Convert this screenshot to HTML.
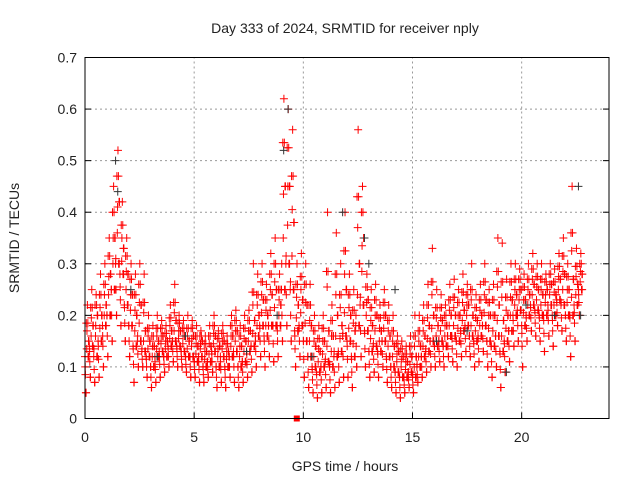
<!DOCTYPE html>
<html><head><meta charset="utf-8"><style>
html,body{margin:0;padding:0;background:#fff;}
svg{display:block;font-family:"Liberation Sans",sans-serif;}
</style></head><body>
<svg id="chart" width="640" height="480" viewBox="0 0 640 480">
<rect width="640" height="480" fill="#fff"/>
<text x="345" y="33" text-anchor="middle" font-size="14" fill="#222">Day 333 of 2024, SRMTID for receiver nply</text>
<text x="345" y="471" text-anchor="middle" font-size="14" fill="#222">GPS time / hours</text>
<text transform="translate(19,238) rotate(-90)" text-anchor="middle" font-size="14" fill="#222">SRMTID / TECUs</text>
<g id="grid"></g>
<g id="ticks"></g>
<g id="marks"></g>
<rect x="85" y="57.5" width="524" height="361" fill="none" stroke="#000" stroke-width="1"/>
</svg>
<script>
const xTicks=[0,5,10,15,20];
const yTicks=[0,0.1,0.2,0.3,0.4,0.5,0.6,0.7];
const yTickLabels=["0","0.1","0.2","0.3","0.4","0.5","0.6","0.7"];
const binStart=[0,0.2,0.4,0.6,0.8,1,1.2,1.4,1.6,1.8,2,2.2,2.4,2.6,2.8,3,3.2,3.4,3.6,3.8,4,4.2,4.4,4.6,4.8,5,5.2,5.4,5.6,5.8,6,6.2,6.4,6.6,6.8,7,7.2,7.4,7.6,7.8,8,8.2,8.4,8.6,8.8,9,9.2,9.4,9.6,9.8,10,10.2,10.4,10.6,10.8,11,11.2,11.4,11.6,11.8,12,12.2,12.4,12.6,12.8,13,13.2,13.4,13.6,13.8,14,14.2,14.4,14.6,14.8,15,15.2,15.4,15.6,15.8,16,16.2,16.4,16.6,16.8,17,17.2,17.4,17.6,17.8,18,18.2,18.4,18.6,18.8,19,19.2,19.4,19.6,19.8,20,20.2,20.4,20.6,20.8,21,21.2,21.4,21.6,21.8,22,22.2,22.4,22.6];
const lowVals=[.05,.08,.07,.08,.1,.12,.15,.2,.18,.15,.12,.07,.1,.1,.08,.06,.07,.08,.09,.1,.11,.1,.1,.09,.08,.08,.07,.07,.08,.09,.06,.07,.06,.08,.07,.06,.07,.08,.09,.1,.12,.1,.12,.11,.12,.15,.18,.15,.1,.12,.08,.06,.05,.04,.05,.06,.05,.06,.07,.08,.08,.06,.1,.12,.1,.08,.09,.08,.1,.07,.06,.05,.04,.05,.06,.05,.07,.08,.09,.1,.1,.11,.1,.12,.11,.1,.12,.13,.12,.1,.11,.13,.1,.08,.1,.06,.09,.11,.14,.15,.1,.15,.17,.16,.15,.13,.16,.14,.18,.17,.15,.12,.15,.2];
const midVals=[.12,.14,.12,.15,.18,.2,.25,.3,.28,.22,.18,.14,.15,.13,.12,.1,.12,.13,.12,.14,.15,.14,.13,.12,.12,.11,.12,.1,.11,.13,.1,.12,.1,.12,.13,.1,.11,.13,.14,.16,.18,.16,.18,.18,.18,.25,.3,.25,.17,.18,.15,.12,.1,.09,.1,.11,.1,.12,.13,.16,.15,.12,.18,.22,.17,.13,.14,.13,.15,.12,.1,.09,.08,.08,.09,.08,.1,.12,.13,.15,.14,.15,.14,.16,.16,.15,.17,.18,.16,.15,.16,.18,.15,.14,.16,.13,.15,.17,.2,.21,.18,.2,.22,.21,.2,.2,.22,.2,.23,.22,.2,.2,.22,.25];
const midVals2=[.15,.18,.2,.2,.22,.28,.35,.42,.33,.28,.24,.2,.22,.17,.15,.14,.15,.16,.15,.17,.19,.17,.16,.15,.16,.14,.15,.13,.14,.16,.14,.15,.13,.16,.17,.14,.15,.17,.19,.2,.23,.2,.24,.25,.22,.45,.45,.38,.22,.23,.22,.18,.14,.13,.15,.17,.16,.2,.18,.25,.2,.17,.3,.35,.23,.18,.2,.17,.2,.16,.14,.13,.12,.11,.12,.12,.14,.16,.18,.2,.18,.19,.18,.2,.2,.2,.21,.22,.2,.19,.2,.23,.2,.2,.22,.19,.2,.23,.24,.25,.23,.24,.26,.25,.24,.25,.26,.24,.27,.28,.25,.27,.26,.28];
const highVals=[.22,.25,.24,.28,.3,.35,.45,.52,.42,.35,.3,.28,.3,.28,.2,.18,.2,.19,.18,.22,.26,.2,.19,.2,.19,.18,.17,.16,.18,.2,.17,.18,.16,.2,.21,.18,.2,.21,.3,.28,.3,.26,.32,.35,.28,.62,.6,.56,.3,.32,.3,.26,.2,.18,.2,.4,.22,.36,.3,.4,.28,.25,.56,.45,.28,.25,.26,.22,.25,.22,.2,.16,.15,.14,.16,.2,.2,.22,.26,.33,.25,.24,.22,.26,.27,.25,.28,.26,.3,.24,.26,.3,.25,.26,.35,.34,.27,.3,.3,.29,.28,.3,.32,.3,.3,.28,.3,.29,.32,.35,.3,.45,.33,.32];
const blackT=[1.4,1.5,2.1,3.3,4.6,7.4,8.8,9.1,9.3,10.4,11.8,12.8,13.0,14.2,16.1,17.5,19.3,20.2,21.5,22.6,22.7];
const blackV=[.5,.44,.25,.12,.16,.13,.2,.52,.6,.12,.4,.35,.3,.25,.15,.17,.09,.22,.2,.45,.2];
const X0=85,XW=524,Y0=418.5,YH=361;
function xs(t){return X0+t/24*XW;}
function ys(v){return Y0-v/0.7*YH;}
const NS="http://www.w3.org/2000/svg";
const grid=document.getElementById('grid'),ticks=document.getElementById('ticks'),marks=document.getElementById('marks');
function el(tag,attrs,parent){const e=document.createElementNS(NS,tag);for(const k in attrs)e.setAttribute(k,attrs[k]);parent.appendChild(e);return e;}
xTicks.forEach(t=>{const x=xs(t);
 if(t>0){const g=el('line',{x1:x,y1:Y0,x2:x,y2:57.5,stroke:'#999','stroke-dasharray':'2,3'},grid);
 
 }
 el('line',{x1:x,y1:Y0,x2:x,y2:Y0-6,stroke:'#000'},ticks);
 const tx=el('text',{x:x,y:442,'text-anchor':'middle','font-size':14,fill:'#222'},ticks);tx.textContent=t;
 
 });
yTicks.forEach((v,i)=>{const y=ys(v);
 if(v>0&&v<0.7){const g=el('line',{x1:X0,y1:y,x2:609,y2:y,stroke:'#999','stroke-dasharray':'2,3'},grid);
 
 }
 el('line',{x1:X0,y1:y,x2:X0+6,y2:y,stroke:'#000'},ticks);
 el('line',{x1:609,y1:y,x2:603,y2:y,stroke:'#000'},ticks);
 const tx=el('text',{x:X0-8,y:y+5,'text-anchor':'end','font-size':14,fill:'#222'},ticks);tx.textContent=yTickLabels[i];
 
 });
function plus(t,v,c){const x=xs(t),y=ys(v);
 const p=el('path',{d:`M${x-4},${y}h8M${x},${y-4}v8`,stroke:c,'stroke-width':1,fill:'none'},marks);
 
 }
const offs=[0.00,0.11,0.05,0.16,0.02,0.13,0.08,0.18,0.04,0.14,0.09,0.01,0.17,0.06];
binStart.forEach((t,i)=>{
 const lo=lowVals[i],m1=midVals[i],m2=midVals2[i],hi=highVals[i];
 const vals=[m1,hi,lo,m2,(lo+m1)/2,(m2+hi)/2,(m1+m2)/2,m2,lo,m1,(m1+hi)/2,(lo+m2)/2,m1,(m2+hi)/2];
 vals.forEach((v,k)=>plus(t+offs[k],v,'#f00'));
});
blackT.forEach((t,i)=>plus(t,blackV[i],'#333'));
const sq=el('rect',{x:xs(9.7)-3,y:Y0-3,width:6,height:6,fill:'#f00'},marks);


</script>
</body></html>
